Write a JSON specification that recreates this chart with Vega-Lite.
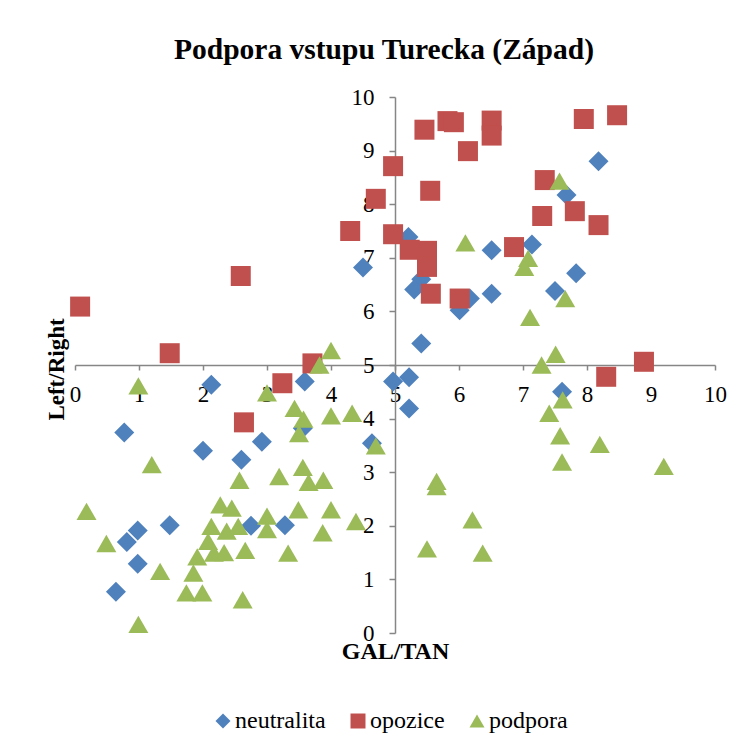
{
  "$schema": "https://vega.github.io/schema/vega-lite/v6.json",
  "width": 640,
  "height": 536,
  "autosize": "none",
  "padding": {"left": 75, "top": 97, "right": 31, "bottom": 118},
  "background": "white",
  "config": {
    "view": {"stroke": null},
    "font": "Liberation Serif",
    "legend": {"labelFont": "Liberation Serif", "labelFontSize": 24, "labelColor": "black"}
  },
  "title": {
    "text": "Podpora vstupu Turecka (Západ)",
    "font": "Liberation Serif",
    "fontSize": 29.5,
    "fontWeight": "bold",
    "color": "black",
    "anchor": "middle",
    "dx": -11,
    "offset": 21
  },
  "data": {
    "values": [
      {"gal": 4.50, "lr": 6.82, "skupina": "neutralita"},
      {"gal": 8.18, "lr": 8.80, "skupina": "neutralita"},
      {"gal": 7.68, "lr": 8.17, "skupina": "neutralita"},
      {"gal": 5.21, "lr": 7.39, "skupina": "neutralita"},
      {"gal": 7.14, "lr": 7.25, "skupina": "neutralita"},
      {"gal": 6.51, "lr": 7.14, "skupina": "neutralita"},
      {"gal": 5.41, "lr": 6.60, "skupina": "neutralita"},
      {"gal": 5.30, "lr": 6.41, "skupina": "neutralita"},
      {"gal": 6.17, "lr": 6.24, "skupina": "neutralita"},
      {"gal": 6.01, "lr": 6.02, "skupina": "neutralita"},
      {"gal": 6.51, "lr": 6.33, "skupina": "neutralita"},
      {"gal": 7.50, "lr": 6.38, "skupina": "neutralita"},
      {"gal": 7.83, "lr": 6.71, "skupina": "neutralita"},
      {"gal": 5.41, "lr": 5.40, "skupina": "neutralita"},
      {"gal": 5.22, "lr": 4.77, "skupina": "neutralita"},
      {"gal": 4.97, "lr": 4.69, "skupina": "neutralita"},
      {"gal": 5.22, "lr": 4.19, "skupina": "neutralita"},
      {"gal": 7.61, "lr": 4.50, "skupina": "neutralita"},
      {"gal": 2.13, "lr": 4.63, "skupina": "neutralita"},
      {"gal": 3.59, "lr": 4.69, "skupina": "neutralita"},
      {"gal": 0.77, "lr": 3.74, "skupina": "neutralita"},
      {"gal": 2.00, "lr": 3.40, "skupina": "neutralita"},
      {"gal": 2.60, "lr": 3.23, "skupina": "neutralita"},
      {"gal": 2.92, "lr": 3.57, "skupina": "neutralita"},
      {"gal": 3.56, "lr": 3.82, "skupina": "neutralita"},
      {"gal": 4.64, "lr": 3.54, "skupina": "neutralita"},
      {"gal": 0.98, "lr": 1.91, "skupina": "neutralita"},
      {"gal": 0.81, "lr": 1.70, "skupina": "neutralita"},
      {"gal": 1.48, "lr": 2.01, "skupina": "neutralita"},
      {"gal": 0.98, "lr": 1.29, "skupina": "neutralita"},
      {"gal": 0.64, "lr": 0.77, "skupina": "neutralita"},
      {"gal": 2.75, "lr": 2.00, "skupina": "neutralita"},
      {"gal": 3.28, "lr": 2.01, "skupina": "neutralita"},
      {"gal": 0.08, "lr": 6.09, "skupina": "opozice"},
      {"gal": 1.48, "lr": 5.22, "skupina": "opozice"},
      {"gal": 2.59, "lr": 6.66, "skupina": "opozice"},
      {"gal": 4.30, "lr": 7.50, "skupina": "opozice"},
      {"gal": 4.70, "lr": 8.10, "skupina": "opozice"},
      {"gal": 4.97, "lr": 8.71, "skupina": "opozice"},
      {"gal": 4.97, "lr": 7.44, "skupina": "opozice"},
      {"gal": 3.71, "lr": 5.03, "skupina": "opozice"},
      {"gal": 3.24, "lr": 4.66, "skupina": "opozice"},
      {"gal": 2.64, "lr": 3.93, "skupina": "opozice"},
      {"gal": 5.46, "lr": 9.39, "skupina": "opozice"},
      {"gal": 5.82, "lr": 9.55, "skupina": "opozice"},
      {"gal": 5.92, "lr": 9.53, "skupina": "opozice"},
      {"gal": 6.51, "lr": 9.56, "skupina": "opozice"},
      {"gal": 6.51, "lr": 9.28, "skupina": "opozice"},
      {"gal": 6.14, "lr": 8.99, "skupina": "opozice"},
      {"gal": 5.55, "lr": 8.25, "skupina": "opozice"},
      {"gal": 7.95, "lr": 9.59, "skupina": "opozice"},
      {"gal": 8.47, "lr": 9.66, "skupina": "opozice"},
      {"gal": 7.34, "lr": 8.45, "skupina": "opozice"},
      {"gal": 7.30, "lr": 7.78, "skupina": "opozice"},
      {"gal": 7.81, "lr": 7.87, "skupina": "opozice"},
      {"gal": 8.18, "lr": 7.61, "skupina": "opozice"},
      {"gal": 6.86, "lr": 7.20, "skupina": "opozice"},
      {"gal": 5.23, "lr": 7.15, "skupina": "opozice"},
      {"gal": 5.50, "lr": 7.13, "skupina": "opozice"},
      {"gal": 5.50, "lr": 6.83, "skupina": "opozice"},
      {"gal": 5.56, "lr": 6.33, "skupina": "opozice"},
      {"gal": 6.01, "lr": 6.24, "skupina": "opozice"},
      {"gal": 8.89, "lr": 5.06, "skupina": "opozice"},
      {"gal": 8.30, "lr": 4.78, "skupina": "opozice"},
      {"gal": 4.00, "lr": 5.27, "skupina": "podpora"},
      {"gal": 3.82, "lr": 5.00, "skupina": "podpora"},
      {"gal": 7.57, "lr": 8.43, "skupina": "podpora"},
      {"gal": 6.10, "lr": 7.28, "skupina": "podpora"},
      {"gal": 7.08, "lr": 6.99, "skupina": "podpora"},
      {"gal": 7.02, "lr": 6.82, "skupina": "podpora"},
      {"gal": 7.66, "lr": 6.24, "skupina": "podpora"},
      {"gal": 7.11, "lr": 5.89, "skupina": "podpora"},
      {"gal": 7.51, "lr": 5.20, "skupina": "podpora"},
      {"gal": 7.29, "lr": 5.00, "skupina": "podpora"},
      {"gal": 7.62, "lr": 4.35, "skupina": "podpora"},
      {"gal": 7.41, "lr": 4.10, "skupina": "podpora"},
      {"gal": 7.58, "lr": 3.68, "skupina": "podpora"},
      {"gal": 7.61, "lr": 3.19, "skupina": "podpora"},
      {"gal": 8.20, "lr": 3.52, "skupina": "podpora"},
      {"gal": 9.20, "lr": 3.11, "skupina": "podpora"},
      {"gal": 5.65, "lr": 2.83, "skupina": "podpora"},
      {"gal": 5.65, "lr": 2.73, "skupina": "podpora"},
      {"gal": 6.21, "lr": 2.11, "skupina": "podpora"},
      {"gal": 5.50, "lr": 1.57, "skupina": "podpora"},
      {"gal": 6.37, "lr": 1.49, "skupina": "podpora"},
      {"gal": 0.99, "lr": 4.61, "skupina": "podpora"},
      {"gal": 3.00, "lr": 4.48, "skupina": "podpora"},
      {"gal": 3.43, "lr": 4.19, "skupina": "podpora"},
      {"gal": 3.57, "lr": 3.99, "skupina": "podpora"},
      {"gal": 3.50, "lr": 3.72, "skupina": "podpora"},
      {"gal": 4.00, "lr": 4.05, "skupina": "podpora"},
      {"gal": 4.33, "lr": 4.10, "skupina": "podpora"},
      {"gal": 4.70, "lr": 3.49, "skupina": "podpora"},
      {"gal": 1.20, "lr": 3.14, "skupina": "podpora"},
      {"gal": 2.57, "lr": 2.85, "skupina": "podpora"},
      {"gal": 3.19, "lr": 2.92, "skupina": "podpora"},
      {"gal": 3.56, "lr": 3.09, "skupina": "podpora"},
      {"gal": 3.65, "lr": 2.81, "skupina": "podpora"},
      {"gal": 3.88, "lr": 2.85, "skupina": "podpora"},
      {"gal": 0.18, "lr": 2.27, "skupina": "podpora"},
      {"gal": 2.27, "lr": 2.39, "skupina": "podpora"},
      {"gal": 2.45, "lr": 2.33, "skupina": "podpora"},
      {"gal": 2.13, "lr": 1.99, "skupina": "podpora"},
      {"gal": 2.37, "lr": 1.90, "skupina": "podpora"},
      {"gal": 2.55, "lr": 1.99, "skupina": "podpora"},
      {"gal": 3.00, "lr": 2.18, "skupina": "podpora"},
      {"gal": 3.00, "lr": 1.93, "skupina": "podpora"},
      {"gal": 3.49, "lr": 2.30, "skupina": "podpora"},
      {"gal": 4.00, "lr": 2.30, "skupina": "podpora"},
      {"gal": 4.39, "lr": 2.08, "skupina": "podpora"},
      {"gal": 3.87, "lr": 1.87, "skupina": "podpora"},
      {"gal": 3.33, "lr": 1.49, "skupina": "podpora"},
      {"gal": 2.66, "lr": 1.54, "skupina": "podpora"},
      {"gal": 2.08, "lr": 1.71, "skupina": "podpora"},
      {"gal": 2.17, "lr": 1.49, "skupina": "podpora"},
      {"gal": 2.33, "lr": 1.50, "skupina": "podpora"},
      {"gal": 1.91, "lr": 1.42, "skupina": "podpora"},
      {"gal": 1.85, "lr": 1.12, "skupina": "podpora"},
      {"gal": 0.49, "lr": 1.67, "skupina": "podpora"},
      {"gal": 1.33, "lr": 1.15, "skupina": "podpora"},
      {"gal": 1.74, "lr": 0.75, "skupina": "podpora"},
      {"gal": 1.99, "lr": 0.75, "skupina": "podpora"},
      {"gal": 2.62, "lr": 0.62, "skupina": "podpora"},
      {"gal": 0.99, "lr": 0.16, "skupina": "podpora"}
    ]
  },
  "mark": {"type": "point", "filled": true, "size": 400, "opacity": 1, "strokeWidth": 0},
  "encoding": {
    "x": {
      "field": "gal",
      "type": "quantitative",
      "scale": {"domain": [0, 10], "nice": false, "zero": false},
      "axis": {
        "title": "GAL/TAN",
        "titleFont": "Liberation Serif",
        "titleFontSize": 24,
        "titleFontWeight": "bold",
        "titleColor": "black",
        "titleBaseline": "alphabetic",
        "titleY": 293,
        "offset": -268,
        "values": [0, 1, 2, 3, 4, 5, 6, 7, 8, 9, 10],
        "grid": false,
        "domainColor": "#868686",
        "domainWidth": 1.5,
        "tickColor": "#868686",
        "tickWidth": 1.5,
        "tickSize": 5,
        "labelFont": "Liberation Serif",
        "labelFontSize": 23,
        "labelColor": "black",
        "labelPadding": 13,
        "labelFlush": false,
        "labelOverlap": false,
        "labelBound": false
      }
    },
    "y": {
      "field": "lr",
      "type": "quantitative",
      "scale": {"domain": [0, 10], "nice": false, "zero": false},
      "axis": {
        "title": "Left/Right",
        "titleFont": "Liberation Serif",
        "titleFontSize": 23,
        "titleFontWeight": "bold",
        "titleColor": "black",
        "titleBaseline": "alphabetic",
        "titleAngle": -90,
        "titleX": -332,
        "titleY": 272,
        "offset": -320,
        "values": [0, 1, 2, 3, 4, 5, 6, 7, 8, 9, 10],
        "grid": false,
        "domainColor": "#868686",
        "domainWidth": 1.5,
        "tickColor": "#868686",
        "tickWidth": 1.5,
        "tickSize": 6,
        "labelFont": "Liberation Serif",
        "labelFontSize": 23,
        "labelColor": "black",
        "labelPadding": 15,
        "labelFlush": false,
        "labelOverlap": false,
        "labelBound": false
      }
    },
    "color": {
      "field": "skupina",
      "type": "nominal",
      "scale": {"domain": ["neutralita", "opozice", "podpora"], "range": ["#4F81BD", "#C0504D", "#9BBB59"]},
      "legend": {
        "title": null,
        "orient": "none",
        "direction": "horizontal",
        "legendX": 136,
        "legendY": 612,
        "labelFont": "Liberation Serif",
        "labelFontSize": 24,
        "labelColor": "black",
        "labelLimit": 300,
        "symbolSize": 225,
        "symbolStrokeWidth": 0,
        "labelOffset": 0,
        "columnPadding": 20
      }
    },
    "shape": {
      "field": "skupina",
      "type": "nominal",
      "scale": {"domain": ["neutralita", "opozice", "podpora"], "range": ["diamond", "square", "triangle-up"]},
      "legend": {
        "title": null,
        "orient": "none",
        "direction": "horizontal",
        "legendX": 136,
        "legendY": 612,
        "labelFont": "Liberation Serif",
        "labelFontSize": 24,
        "labelColor": "black",
        "labelLimit": 300,
        "symbolSize": 225,
        "symbolStrokeWidth": 0,
        "labelOffset": 0,
        "columnPadding": 20
      }
    }
  }
}
